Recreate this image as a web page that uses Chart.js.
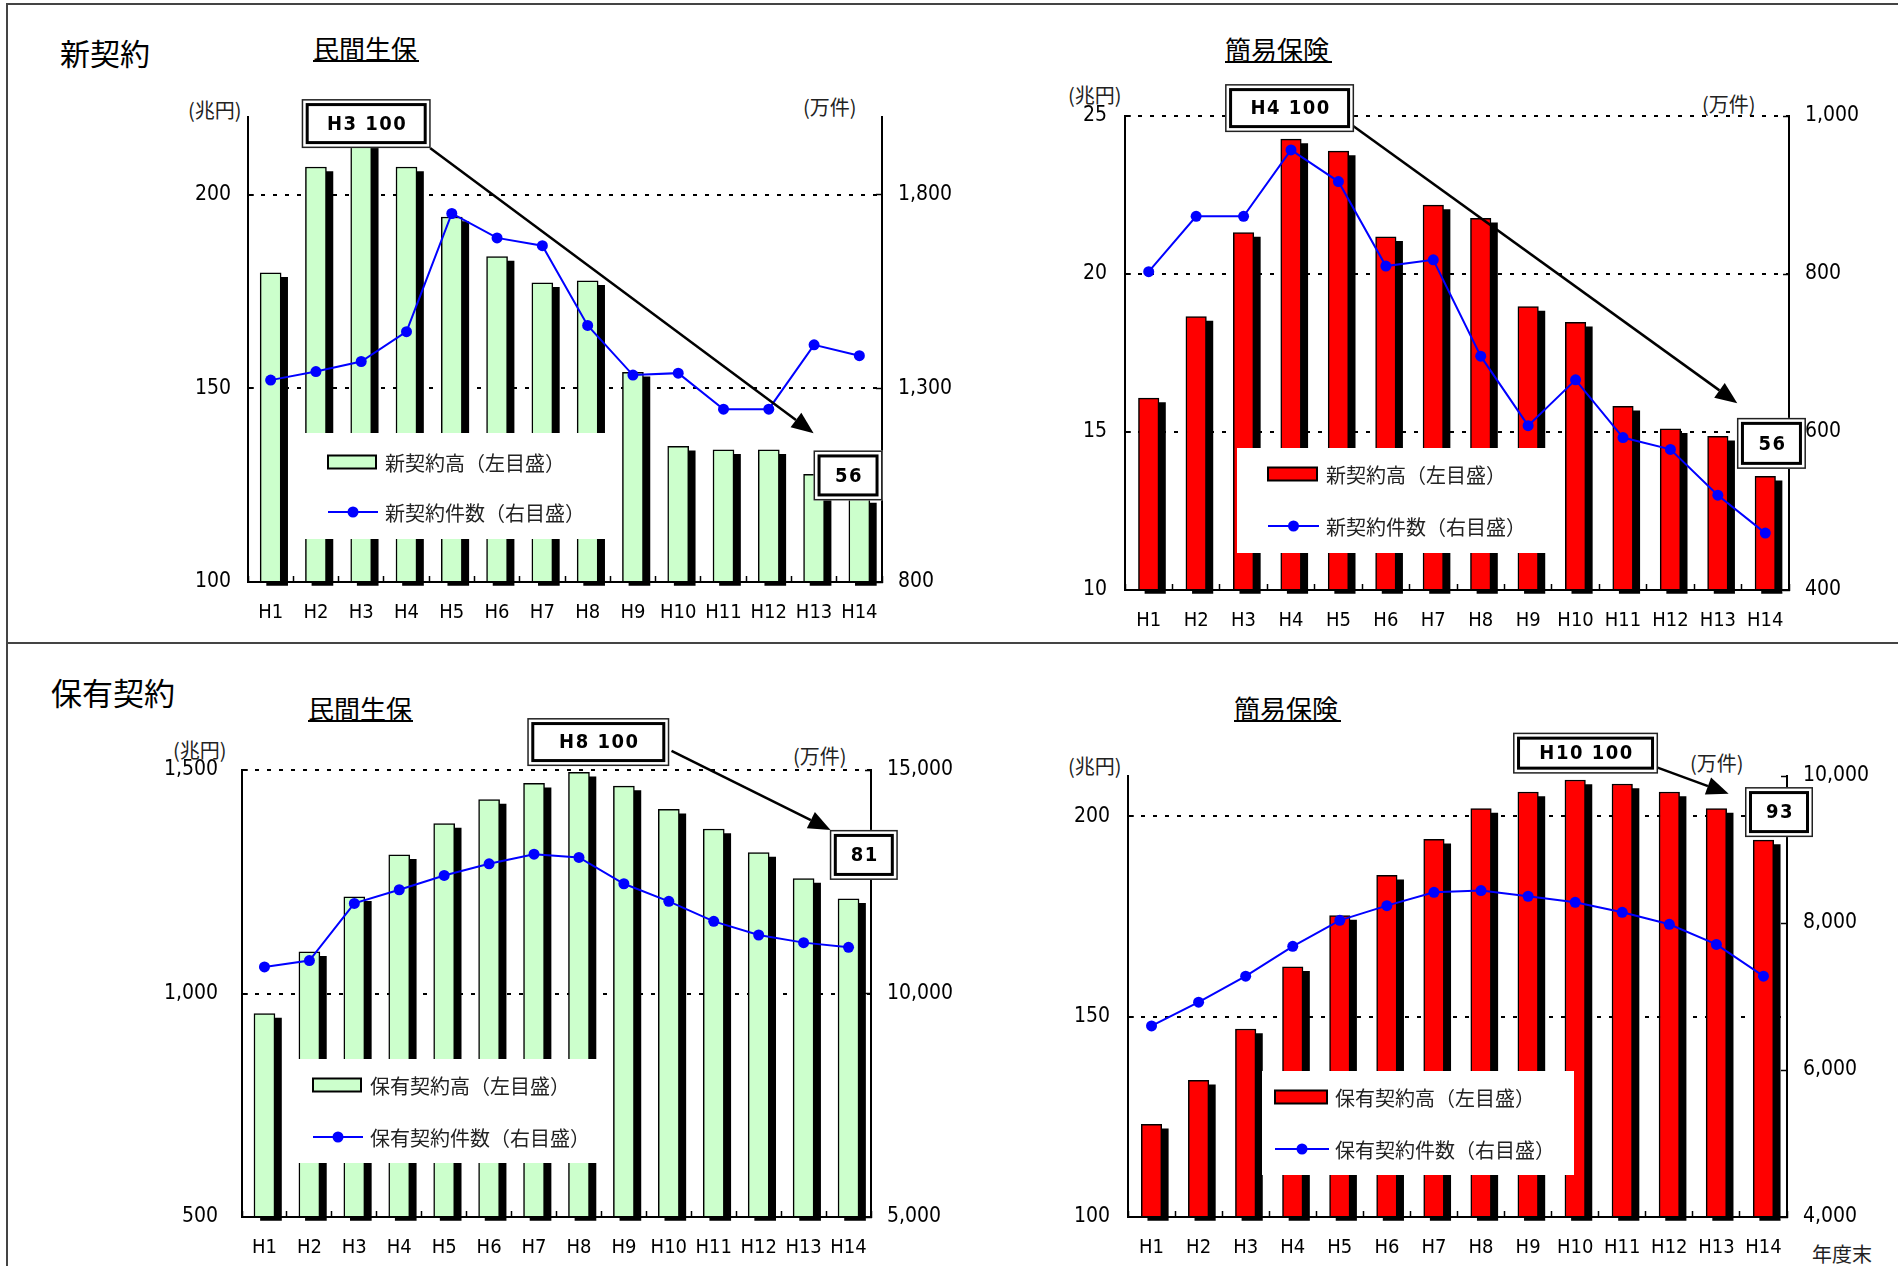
<!DOCTYPE html>
<html lang="ja">
<head>
<meta charset="utf-8">
<script src="https://cdn.jsdelivr.net/npm/chart.js@4/dist/chart.umd.min.js"></script>
<style>
html,body{margin:0;padding:0;background:#fff;}
#page{position:relative;width:1898px;height:1266px;overflow:hidden;background:#fff;font-family:'Noto Sans CJK JP',sans-serif;color:#000;}
canvas{position:absolute;left:0;top:0;}
.t{position:absolute;white-space:nowrap;line-height:1;}
.big{font-size:30px;}
.sub{font-size:26px;}
.unit{font-size:20px;color:#222;}
.rule{position:absolute;background:#000;}
.frame{position:absolute;background:#444;}
</style>
</head>
<body>
<div id="page">
  <div class="frame" style="left:6px;top:3px;width:1892px;height:2px;"></div>
  <div class="frame" style="left:6px;top:3px;width:2px;height:1263px;"></div>
  <div class="frame" style="left:6px;top:642px;width:1892px;height:2px;"></div>

  <div class="t big" style="left:60px;top:37px;">新契約</div>
  <div class="t big" style="left:51px;top:676px;font-size:31px;">保有契約</div>

  <div class="t sub" style="left:313px;top:35px;">民間生保</div>
  <div class="rule" style="left:313px;top:60px;width:106px;height:2px;"></div>
  <div class="t sub" style="left:1225px;top:36px;">簡易保険</div>
  <div class="rule" style="left:1225px;top:61px;width:107px;height:2px;"></div>
  <div class="t sub" style="left:308px;top:695px;">民間生保</div>
  <div class="rule" style="left:308px;top:720px;width:105px;height:2px;"></div>
  <div class="t sub" style="left:1234px;top:695px;">簡易保険</div>
  <div class="rule" style="left:1234px;top:720px;width:107px;height:2px;"></div>

  <div class="t unit" style="left:188px;top:100px;">(兆円)</div>
  <div class="t unit" style="left:803px;top:97px;">(万件)</div>
  <div class="t unit" style="left:1068px;top:85px;">(兆円)</div>
  <div class="t unit" style="left:1702px;top:94px;">(万件)</div>
  <div class="t unit" style="left:173px;top:740px;">(兆円)</div>
  <div class="t unit" style="left:793px;top:746px;">(万件)</div>
  <div class="t unit" style="left:1068px;top:756px;">(兆円)</div>
  <div class="t unit" style="left:1690px;top:753px;">(万件)</div>
  <div class="t unit" style="left:1812px;top:1244px;">年度末</div>

  <canvas id="c1" width="1898" height="1266"></canvas>
  <canvas id="c2" width="1898" height="1266"></canvas>
  <canvas id="c3" width="1898" height="1266"></canvas>
  <canvas id="c4" width="1898" height="1266"></canvas>
</div>
<script>
// ---------------- data ----------------
const categories = ['H1','H2','H3','H4','H5','H6','H7','H8','H9','H10','H11','H12','H13','H14'];

// 新契約 民間生保
const privNewAmount = [179.8, 207.1, 218.0, 207.1, 194.2, 184.0, 177.2, 177.7, 154.1, 135.0, 134.1, 134.1, 127.8, 121.5]; // 兆円
const privNewCount  = [1321, 1343, 1369, 1446, 1751, 1688, 1668, 1462, 1334, 1339, 1246, 1246, 1412, 1384];       // 万件
// 新契約 簡易保険
const kanpoNewAmount = [16.07, 18.65, 21.31, 24.27, 23.89, 21.18, 22.18, 21.76, 18.97, 18.47, 15.81, 15.10, 14.86, 13.60];
const kanpoNewCount  = [803, 873, 873, 957, 917, 810, 818, 696, 608, 666, 593, 578, 520, 472];
// 保有契約 民間生保
const privHoldAmount = [955, 1093, 1216, 1310, 1380, 1434, 1470, 1495, 1464, 1412, 1368, 1315, 1257, 1212];
const privHoldCount  = [10595, 10737, 12016, 12321, 12641, 12902, 13117, 13043, 12455, 12061, 11614, 11309, 11138, 11034];
// 保有契約 簡易保険
const kanpoHoldAmount = [123.1, 134.1, 146.9, 162.4, 175.2, 185.2, 194.2, 201.9, 206.0, 209.0, 208.0, 206.0, 201.9, 194.0];
const kanpoHoldCount  = [6600, 6923, 7277, 7682, 8036, 8236, 8418, 8441, 8364, 8282, 8145, 7982, 7709, 7277];

// tick labels
const privNewLeftTicks   = [100, 150, 200];
const privNewRightTicks  = [800, 1300, 1800];
const kanpoNewLeftTicks  = [10, 15, 20, 25];
const kanpoNewRightTicks = [400, 600, 800, 1000];
const privHoldLeftTicks  = [500, 1000, 1500];
const privHoldRightTicks = [5000, 10000, 15000];
const kanpoHoldLeftTicks = [100, 150, 200];
const kanpoHoldRightTicks = [4000, 6000, 8000, 10000];

// legend texts
const newLegend  = ['新契約高（左目盛）', '新契約件数（右目盛）'];
const holdLegend = ['保有契約高（左目盛）', '保有契約件数（右目盛）'];

// ---------------- helpers ----------------
const NARROW = "'Liberation Sans Narrow','Arial Narrow','DejaVu Sans Condensed',sans-serif";
const CJK = "'Noto Sans CJK JP','Noto Sans',sans-serif";

const shadowPlugin = {
  id: 'barShadow',
  beforeDatasetDraw(chart, args) {
    const ds = chart.data.datasets[args.index];
    if (ds.isShadow) {
      chart.ctx.save();
      chart.ctx.translate(6.5, 4.5);
    }
  },
  afterDatasetDraw(chart, args) {
    const ds = chart.data.datasets[args.index];
    if (ds.isShadow) chart.ctx.restore();
  }
};

const legendPlugin = {
  id: 'boxLegend',
  afterDatasetsDraw(chart, args, o) {
    const ctx = chart.ctx;
    ctx.save();
    ctx.fillStyle = '#fff';
    ctx.fillRect(o.box[0], o.box[1], o.box[2] - o.box[0], o.box[3] - o.box[1]);
    const r0 = o.rows[0], r1 = o.rows[1];
    ctx.fillStyle = o.barColor;
    ctx.fillRect(o.symX, r0 - 6.5, o.symW, 13);
    ctx.strokeStyle = '#000';
    ctx.lineWidth = 2;
    ctx.strokeRect(o.symX, r0 - 6.5, o.symW, 13);
    ctx.strokeStyle = '#0000ff';
    ctx.lineWidth = 2;
    ctx.beginPath();
    ctx.moveTo(o.symX, r1);
    ctx.lineTo(o.symX + o.symW + 2, r1);
    ctx.stroke();
    ctx.fillStyle = '#0000ff';
    ctx.beginPath();
    ctx.arc(o.symX + (o.symW + 2) / 2, r1, 5.5, 0, Math.PI * 2);
    ctx.fill();
    ctx.fillStyle = '#222';
    ctx.font = '20px ' + CJK;
    ctx.textAlign = 'left';
    ctx.textBaseline = 'middle';
    ctx.fillText(o.texts[0], o.textX, r0 + 1);
    ctx.fillText(o.texts[1], o.textX, r1 + 1);
    ctx.restore();
  }
};

function drawBox(ctx, cx, cy, w, h, text) {
  const x0 = cx - w / 2, y0 = cy - h / 2;
  ctx.fillStyle = '#fff';
  ctx.fillRect(x0, y0, w, h);
  ctx.strokeStyle = '#222';
  ctx.lineWidth = 1.5;
  ctx.strokeRect(x0 + 0.75, y0 + 0.75, w - 1.5, h - 1.5);
  ctx.strokeStyle = '#000';
  ctx.lineWidth = 3;
  ctx.strokeRect(x0 + 5.5, y0 + 5.5, w - 11, h - 11);
  ctx.fillStyle = '#000';
  ctx.font = 'bold 20px ' + NARROW;
  try { ctx.letterSpacing = '1.5px'; } catch (e) {}
  ctx.textAlign = 'center';
  ctx.textBaseline = 'middle';
  ctx.fillText(text, cx + 1, cy + 1);
  try { ctx.letterSpacing = '0px'; } catch (e) {}
}

const annotPlugin = {
  id: 'annot',
  afterDraw(chart, args, o) {
    const ctx = chart.ctx, xs = chart.scales.x, ys = chart.scales.y;
    const px = i => xs.getPixelForValue(i), py = v => ys.getPixelForValue(v);
    ctx.save();
    const x1 = px(o.arrowFrom[0]), y1 = py(o.arrowFrom[1]);
    const x2 = px(o.arrowTo[0]), y2 = py(o.arrowTo[1]);
    const a = Math.atan2(y2 - y1, x2 - x1), c = Math.cos(a), s = Math.sin(a);
    const hl = 22, hw = 9;
    ctx.strokeStyle = '#000';
    ctx.lineWidth = 2.5;
    ctx.beginPath();
    ctx.moveTo(x1, y1);
    ctx.lineTo(x2 - hl * c, y2 - hl * s);
    ctx.stroke();
    ctx.fillStyle = '#000';
    ctx.beginPath();
    ctx.moveTo(x2, y2);
    ctx.lineTo(x2 - hl * c + hw * s, y2 - hl * s - hw * c);
    ctx.lineTo(x2 - hl * c - hw * s, y2 - hl * s + hw * c);
    ctx.closePath();
    ctx.fill();
    for (const b of o.boxes) drawBox(ctx, px(b.i), py(b.v), b.w, b.h, b.text);
    ctx.restore();
  }
};

function makeChart(id, c) {
  const area = c.area; // [left, top, right, bottom] of plot area on page
  new Chart(document.getElementById(id), {
    data: {
      labels: categories,
      datasets: [
        {
          type: 'line', label: c.legend[1], data: c.count, yAxisID: 'y2', order: 0,
          borderColor: '#0000ff', backgroundColor: '#0000ff', borderWidth: 2,
          pointRadius: 5.5, pointBorderWidth: 0, pointBackgroundColor: '#0000ff', tension: 0, clip: false
        },
        {
          type: 'bar', label: c.legend[0], data: c.amount, yAxisID: 'y', order: 1, base: c.left[0],
          backgroundColor: c.barColor, borderColor: '#000', borderWidth: 1.5, borderSkipped: 'bottom',
          barThickness: c.barW, grouped: false, clip: false
        },
        {
          type: 'bar', label: 'shadow', data: c.amount, yAxisID: 'y', order: 2, isShadow: true, base: c.left[0],
          backgroundColor: '#000', borderWidth: 0, barThickness: c.barW, grouped: false, clip: false
        }
      ]
    },
    options: {
      responsive: false,
      animation: false,
      locale: 'en-US',
      events: [],
      layout: {
        padding: { left: area[0] - 100, top: area[1], right: 1898 - area[2] - 100, bottom: 1266 - area[3] - 40 }
      },
      plugins: {
        legend: { display: false },
        tooltip: { enabled: false },
        title: { display: false },
        boxLegend: c.legendBox,
        annot: c.annot
      },
      scales: {
        x: {
          type: 'category', offset: true,
          grid: { offset: true, display: true, drawOnChartArea: false, drawTicks: true, tickLength: -6, tickColor: '#000', tickWidth: 1.5 },
          border: { display: true, color: '#000', width: 2 },
          ticks: { color: '#000', font: { family: NARROW, size: 20 }, padding: 25, maxRotation: 0, autoSkip: false },
          afterFit(s) { s.height = 40; }
        },
        y: {
          type: 'linear', position: 'left', min: c.left[0], max: c.left[1],
          ticks: { color: '#000', font: { family: NARROW, size: 21 }, padding: c.leftPad, autoSkip: false },
          afterBuildTicks(s) { s.ticks = c.leftTicks.map(v => ({ value: v })); },
          grid: {
            color: ctx => (c.gridVals.includes(ctx.tick.value) ? '#000' : 'rgba(0,0,0,0)'),
            lineWidth: 2, drawTicks: true, tickLength: -6, tickColor: '#000', tickWidth: 1.5, tickBorderDash: []
          },
          border: { display: true, color: '#000', width: 2, dash: [4, 8] },
          afterFit(s) { s.width = 100; }
        },
        y2: {
          type: 'linear', position: 'right', min: c.right[0], max: c.right[1],
          ticks: { color: '#000', font: { family: NARROW, size: 21 }, padding: 22, autoSkip: false },
          afterBuildTicks(s) { s.ticks = c.rightTicks.map(v => ({ value: v })); },
          grid: { drawOnChartArea: false, drawTicks: true, tickLength: -6, tickColor: '#000', tickWidth: 1.5 },
          border: { display: true, color: '#000', width: 2 },
          afterFit(s) { s.width = 100; }
        }
      }
    },
    plugins: [shadowPlugin, legendPlugin, annotPlugin]
  });
}

const GREEN = '#ccffcc', RED = '#ff0000';

makeChart('c1', {
  area: [248, 117, 882, 582], amount: privNewAmount, count: privNewCount, legend: newLegend,
  barColor: GREEN, barW: 21, left: [100, 220], right: [800, 2000],
  leftTicks: privNewLeftTicks, rightTicks: privNewRightTicks, gridVals: [150, 200], leftPad: 23,
  legendBox: { box: [293, 433, 615, 539], symX: 328, symW: 48, rows: [462, 512], textX: 385, barColor: GREEN, texts: newLegend },
  annot: { arrowFrom: [3.52, 212.0], arrowTo: [11.99, 138.4],
    boxes: [{ i: 2.11, v: 218.3, w: 129, h: 49, text: 'H3 100' }, { i: 12.75, v: 127.5, w: 69, h: 50, text: '56' }] }
});

makeChart('c2', {
  area: [1125, 116, 1789, 590], amount: kanpoNewAmount, count: kanpoNewCount, legend: newLegend,
  barColor: RED, barW: 20.5, left: [10, 25], right: [400, 1000],
  leftTicks: kanpoNewLeftTicks, rightTicks: kanpoNewRightTicks, gridVals: [15, 20, 25], leftPad: 24,
  legendBox: { box: [1237, 448, 1555, 553], symX: 1268, symW: 49, rows: [474, 526], textX: 1326, barColor: RED, texts: newLegend },
  annot: { arrowFrom: [3.99, 25.03], arrowTo: [12.41, 15.91],
    boxes: [{ i: 2.97, v: 25.25, w: 129, h: 48, text: 'H4 100' }, { i: 13.13, v: 14.64, w: 69, h: 51, text: '56' }] }
});

makeChart('c3', {
  area: [242, 770, 871, 1217], amount: privHoldAmount, count: privHoldCount, legend: holdLegend,
  barColor: GREEN, barW: 21, left: [500, 1500], right: [5000, 15000],
  leftTicks: privHoldLeftTicks, rightTicks: privHoldRightTicks, gridVals: [1000, 1500], leftPad: 30,
  legendBox: { box: [290, 1059, 602, 1163], symX: 313, symW: 48, rows: [1085, 1137], textX: 370, barColor: GREEN, texts: holdLegend },
  annot: { arrowFrom: [9.06, 1543], arrowTo: [12.6, 1366],
    boxes: [{ i: 7.43, v: 1562.5, w: 142, h: 48, text: 'H8 100' }, { i: 13.34, v: 1310, w: 68, h: 50, text: '81' }] }
});

makeChart('c4', {
  area: [1128, 776, 1787, 1217], amount: kanpoHoldAmount, count: kanpoHoldCount, legend: holdLegend,
  barColor: RED, barW: 20.5, left: [100, 210], right: [4000, 10000],
  leftTicks: kanpoHoldLeftTicks, rightTicks: kanpoHoldRightTicks, gridVals: [150, 200], leftPad: 24,
  legendBox: { box: [1262, 1071, 1574, 1175], symX: 1275, symW: 52, rows: [1097, 1149], textX: 1335, barColor: RED, texts: holdLegend },
  annot: { arrowFrom: [10.52, 213.1], arrowTo: [12.26, 205.6],
    boxes: [{ i: 9.22, v: 215.7, w: 145, h: 41, text: 'H10 100' }, { i: 13.33, v: 201, w: 68, h: 50, text: '93' }] }
});
</script>
</body>
</html>
